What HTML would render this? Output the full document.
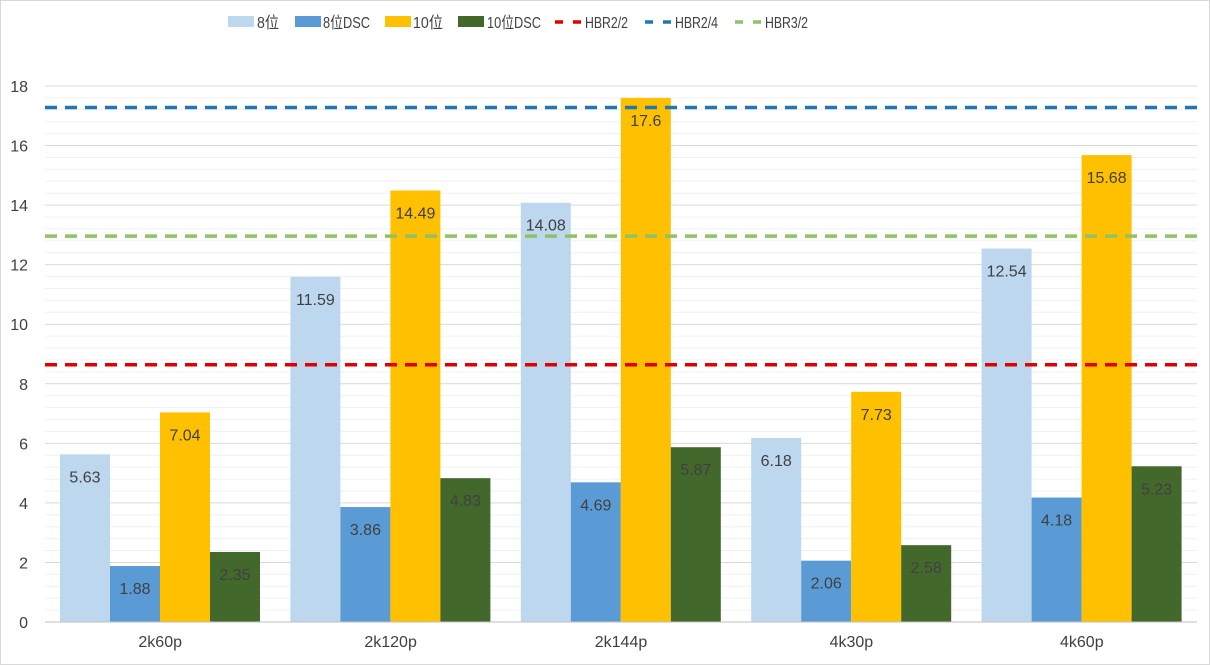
<!DOCTYPE html>
<html><head><meta charset="utf-8"><style>
html,body{margin:0;padding:0;background:#fff}
svg{display:block;font-family:"Liberation Sans","Noto Sans CJK SC",sans-serif}
</style></head><body>
<svg id="chart" width="1210" height="665">
<rect x="0.5" y="0.5" width="1209" height="664" fill="#fff" stroke="#d9d9d9"/>
<g id="grid"></g><g id="bars"></g><g id="lines"></g><g id="labels"></g><g id="axes"></g><g id="legend"></g>
</svg>
<script>
const categories=["2k60p","2k120p","2k144p","4k30p","4k60p"];
const s8=[5.63,11.59,14.08,6.18,12.54];
const s8dsc=[1.88,3.86,4.69,2.06,4.18];
const s10=[7.04,14.49,17.6,7.73,15.68];
const s10dsc=[2.35,4.83,5.87,2.58,5.23];
const refLines=[8.64,17.28,12.96];
const refNames=["HBR2/2","HBR2/4","HBR3/2"];
const yTicks=[0,2,4,6,8,10,12,14,16,18];
const seriesNames=["8位","8位DSC","10位","10位DSC"];
const series=[s8,s8dsc,s10,s10dsc];
const colors=["#bdd7ee","#5b9bd5","#ffc000","#43682b"];
const refColors=["#e00000","#1f78b4","#8fc168"];
const NS="http://www.w3.org/2000/svg";
const X0=45,X1=1197,Y0=622,Y18=86;
const y=v=>Y0-(Y0-Y18)*v/18;
const gw=(X1-X0)/categories.length;
const x=(ci,si)=>X0+ci*gw+15+si*50;
function mk(p,tag,a){const e=document.createElementNS(NS,tag);for(const k in a)e.setAttribute(k,a[k]);document.getElementById(p).appendChild(e);return e;}
for(let v=0;v<=18.01;v+=0.4){
 const l=mk('grid','line',{x1:X0,x2:X1,y1:y(v),y2:y(v),stroke:Math.abs(v-Math.round(v/2)*2)<0.01?'#d9d9d9':'#f0f0f0','stroke-width':1});
 
 
}
yTicks.forEach(t=>{
 const e=mk('axes','text',{x:28,y:y(t)+6,'text-anchor':'end','font-size':16,fill:'#404040'});
 e.textContent=t;
 
 
});
const ax=mk('axes','line',{x1:X0,x2:X1,y1:Y0,y2:Y0,stroke:'#bfbfbf'});


categories.forEach((c,ci)=>{
 const e=mk('axes','text',{x:X0+ci*gw+gw/2,y:647,'text-anchor':'middle','font-size':16,fill:'#404040'});
 e.textContent=c;
 
 
 series.forEach((s,si)=>{
  const v=s[ci];
  const r=mk('bars','rect',{x:x(ci,si),y:y(v),width:50,height:Y0-y(v),fill:colors[si]});
  
  
  const t=mk('labels','text',{x:x(ci,si)+25,y:y(v)+28,'text-anchor':'middle','font-size':16,fill:'#404040'});
  t.textContent=v;
  
  
 });
});
refLines.forEach((v,i)=>{
 const l=mk('lines','line',{x1:X0,x2:X1,y1:y(v),y2:y(v),stroke:refColors[i],'stroke-width':3.5,'stroke-dasharray':'12 8'});
 
 
});
const legX=[228,295,385,458,555,645,735];
const legTextX=[257,323,413,487,585,675,765];
const legTextW=[22,47,30,54,43,43,43];
const names=seriesNames.concat(refNames);
names.forEach((n,i)=>{
 let sw;
 if(i<4) sw=mk('legend','rect',{x:legX[i],y:16,width:26,height:11,fill:colors[i]});
 else sw=mk('legend','line',{x1:legX[i],x2:legX[i]+26,y1:22,y2:22,stroke:refColors[i-4],'stroke-width':3.5,'stroke-dasharray':'8 10'});
 
 
 const t=mk('legend','text',{x:legTextX[i],y:28,'font-size':16,fill:'#404040',textLength:legTextW[i],lengthAdjust:'spacingAndGlyphs'});
 t.textContent=n;
 
 
});
</script>
</body></html>
